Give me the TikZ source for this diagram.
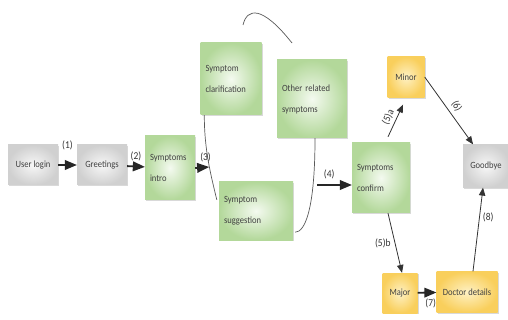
\documentclass[tikz,border=0pt]{standalone}
\usepackage{fontspec}
\setmainfont{Carlito}[FakeStretch=0.9]
\usetikzlibrary{arrows,shadows}
\definecolor{greenedge}{HTML}{B3D89A}
\definecolor{greenmid}{HTML}{F4FAF0}
\definecolor{greyedge}{HTML}{D0D0D0}
\definecolor{greymid}{HTML}{F7F7F7}
\definecolor{yellowedge}{HTML}{F9CF5C}
\definecolor{yellowmid}{HTML}{FEF1C4}
\tikzset{
every picture/.style={x=1pt, y=-1pt}
}
\tikzset{
  box/.style={rectangle, inner xsep=5pt, text=black!75,
    font=\fontsize{9.5}{21}\selectfont,
    drop shadow={opacity=0.3, shadow xshift=1.2pt, shadow yshift=-1.2pt}},
  greybox/.style={box, inner color=greymid, outer color=greyedge, align=center},
  greenbox/.style={box, inner color=greenmid, outer color=greenedge, align=left},
  yellowbox/.style={box, inner color=yellowmid, outer color=yellowedge, align=center},
  flow/.style={-triangle 45, line width=1.8pt, black!85},
  thinflow/.style={-triangle 45, line width=0.8pt, black!80},
  link/.style={line width=0.7pt, black!65},
  lbl/.style={font=\fontsize{10.5}{11}\selectfont, text=black!80, inner sep=1pt}
}
\begin{document}
\begin{tikzpicture}
  \useasboundingbox (0,0) rectangle (508,320);

  \node[greybox, minimum width=50pt, minimum height=40pt] (login) at (33,165) {User login};
  \node[greybox, minimum width=50pt, minimum height=40pt] (greet) at (102,165) {Greetings};
  \node[greenbox, text width=40pt, minimum height=64pt] (intro) at (170,168) {Symptoms\\intro};
  \node[greenbox, text width=51pt, minimum height=72pt] (clarif) at (231,79) {Symptom\\clarification};
  \node[greenbox, text width=60pt, minimum height=78pt] (other) at (312,99) {Other related\\symptoms};
  \node[greenbox, text width=64pt, minimum height=58pt] (suggest) at (256,211) {Symptom\\suggestion};
  \node[greenbox, text width=48pt, minimum height=70pt] (confirm) at (381,178) {Symptoms\\confirm};
  \node[yellowbox, minimum width=37pt, minimum height=41pt] (minor) at (406,77) {Minor};
  \node[greybox, minimum width=46pt, minimum height=43pt] (bye) at (486,166) {Goodbye};
  \node[yellowbox, minimum width=35pt, minimum height=40pt] (major) at (400,293) {Major};
  \node[yellowbox, minimum width=61pt, minimum height=41pt] (doctor) at (467,292) {Doctor details};

  \coordinate (arcstart) at (243,25);
  \coordinate (arcend) at (292,43);
  \coordinate (hit3) at (209,167);
  \coordinate (from4) at (317,185);

  \draw[link] (arcstart) .. controls (247,8) and (262,5) .. (arcend);
  \draw[link] ([xshift=4pt]clarif.south west) .. controls +(0,35) and +(-6,-25) ..
    ([xshift=-2pt, yshift=-18pt]suggest.north west);
  \draw[link] ([xshift=3pt]other.south) .. controls +(0,70) and +(10,0) ..
    ([xshift=2pt, yshift=8pt]suggest.south east);

  \draw[flow] (login) -- (greet) node[lbl, midway, above=13pt] {(1)};
  \draw[flow] (greet) -- (intro) node[lbl, midway, above=4pt] {(2)};
  \draw[flow] (intro.east) -- (hit3) node[lbl, pos=0.75, above=3pt] {(3)};
  \draw[flow] (from4) -- (from4 -| confirm.west) node[lbl, pos=0.35, above=4pt] {(4)};
  \draw[thinflow] ([xshift=7pt, yshift=6pt]confirm.north) -- ([xshift=-3pt, yshift=-7pt]minor.south)
    node[lbl, midway, rotate=65, above=2pt] {(5)a};
  \draw[thinflow] ([xshift=7pt]confirm.south) -- ([xshift=2pt]major.north)
    node[lbl, midway, left=3pt] {(5)b};
  \draw[thinflow] (minor.east) -- ([xshift=-13pt]bye.north)
    node[lbl, midway, rotate=-60, above=3pt] {(6)};
  \draw[flow] (major) -- (doctor) node[lbl, pos=0.7, below=4pt] {(7)};
  \draw[thinflow] ([xshift=6pt]doctor.north) -- ([xshift=-3pt]bye.south)
    node[lbl, pos=0.65, right=2pt] {(8)};
\end{tikzpicture}
\end{document}
